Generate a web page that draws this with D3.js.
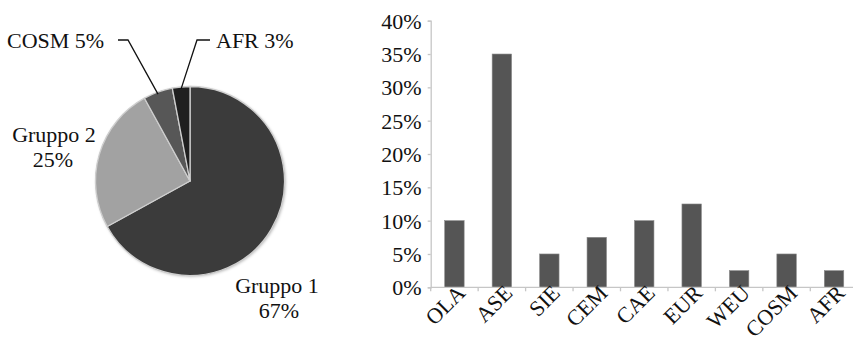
<!DOCTYPE html>
<html>
<head>
<meta charset="utf-8">
<script src="https://cdn.jsdelivr.net/npm/d3@7"></script>
<style>
  html, body { margin: 0; padding: 0; background: #fff; }
  svg { display: block; }
  text { font-family: "Liberation Serif", "Times New Roman", serif; fill: #111; }
</style>
</head>
<body>
<svg id="chart" width="853" height="342"></svg>
<script>
// Pie: share by group
const pieNames = ["Gruppo 1", "Gruppo 2", "COSM", "AFR"];
const pieValues = [67, 25, 5, 3];
const pieColors = ["#3b3b3b", "#a2a2a2", "#575757", "#1f1f1f"];

// Bars: share by region
const barCategories = ["OLA", "ASE", "SIE", "CEM", "CAE", "EUR", "WEU", "COSM", "AFR"];
const barValues = [10, 35, 5, 7.5, 10, 12.5, 2.5, 5, 2.5];
const yTicks = [0, 5, 10, 15, 20, 25, 30, 35, 40];

const svg = d3.select("#chart");
const FONT = 22;

// ---------- pie ----------
const defs = svg.append("defs");
const sh = defs.append("filter").attr("id", "soft").attr("x", "-20%").attr("y", "-20%")
  .attr("width", "140%").attr("height", "140%");
sh.append("feGaussianBlur").attr("in", "SourceAlpha").attr("stdDeviation", 1.8).attr("result", "b");
sh.append("feOffset").attr("in", "b").attr("dx", 0.8).attr("dy", 0.8).attr("result", "o");
sh.append("feFlood").attr("flood-color", "#000").attr("flood-opacity", 0.3);
sh.append("feComposite").attr("in2", "o").attr("operator", "in").attr("result", "s");
const mg = sh.append("feMerge");
mg.append("feMergeNode").attr("in", "s");
mg.append("feMergeNode").attr("in", "SourceGraphic");

const cx = 190, cy = 181, R = 94.5;
const pieData = pieNames.map((n, i) => ({ name: n, value: pieValues[i], color: pieColors[i] }));
const arcs = d3.pie().sort(null).value(d => d.value)(pieData);
const arc = d3.arc().innerRadius(0).outerRadius(R);

const pg = svg.append("g").attr("transform", `translate(${cx},${cy})`);
pg.append("circle").attr("r", R).attr("fill", "#444").attr("filter", "url(#soft)");
pg.selectAll("path.slice").data(arcs).join("path")
  .attr("class", "slice")
  .attr("d", arc)
  .attr("fill", d => d.data.color)
  .attr("stroke", "#cfcfcf")
  .attr("stroke-width", 1.3)
  .attr("stroke-linejoin", "round");

// leader lines for the thin slices
const outer = d3.arc().innerRadius(R).outerRadius(R);
const cosmPt = outer.centroid(arcs[2]);
const afrPt = outer.centroid(arcs[3]);
const lead = svg.append("g").attr("fill", "none").attr("stroke", "#111").attr("stroke-width", 1.3);
lead.append("polyline").attr("points",
  [[118, 40], [128, 40], [cx + cosmPt[0], cy + cosmPt[1] + 2]].map(p => p.join(",")).join(" "));
lead.append("polyline").attr("points",
  [[210, 40], [197, 40], [cx + afrPt[0], cy + afrPt[1] + 2]].map(p => p.join(",")).join(" "));

const pl = svg.append("g").attr("font-size", FONT);
pl.append("text").attr("x", 7).attr("y", 48).text(`${pieNames[2]} ${pieValues[2]}%`);
pl.append("text").attr("x", 216).attr("y", 48).text(`${pieNames[3]} ${pieValues[3]}%`);
pl.append("text").attr("x", 54).attr("y", 142).attr("text-anchor", "middle").text(pieNames[1]);
pl.append("text").attr("x", 53).attr("y", 167).attr("text-anchor", "middle").text(`${pieValues[1]}%`);
pl.append("text").attr("x", 277).attr("y", 293).attr("text-anchor", "middle").text(pieNames[0]);
pl.append("text").attr("x", 279).attr("y", 318).attr("text-anchor", "middle").text(`${pieValues[0]}%`);

// ---------- bars ----------
const x0 = 430.7, bandW = 47.45;
const x = d3.scaleBand().domain(barCategories)
  .range([x0, x0 + bandW * barCategories.length]).paddingInner(0.59).paddingOuter(0.295);
const y = d3.scaleLinear().domain([0, 40]).range([287.3, 20.7]);

const bg = svg.append("g");
const axisColor = "#c6c6c6";

// y axis
const yAxis = bg.append("g").attr("transform", `translate(${x0},0)`)
  .call(d3.axisLeft(y).tickValues(yTicks).tickSize(3).tickPadding(6).tickFormat(d => d + "%"));
yAxis.select(".domain").attr("stroke", axisColor).attr("stroke-width", 1.3);
yAxis.selectAll(".tick line").attr("stroke", axisColor).attr("stroke-width", 1.3);
yAxis.selectAll(".tick text").attr("font-size", FONT).attr("font-family", "Liberation Serif")
  .attr("fill", "#111").attr("dy", "0.34em");

// bars
bg.selectAll("rect.bar").data(barCategories).join("rect")
  .attr("class", "bar")
  .attr("x", d => x(d))
  .attr("width", x.bandwidth())
  .attr("y", (d, i) => y(barValues[i]))
  .attr("height", (d, i) => y(0) - y(barValues[i]))
  .attr("fill", "#555555")
  .attr("stroke", "#8a8a8a")
  .attr("stroke-width", 0.6);

// x axis with category boundary ticks
const xg = bg.append("g");
xg.append("line").attr("x1", x0).attr("x2", 853).attr("y1", y(0)).attr("y2", y(0))
  .attr("stroke", axisColor).attr("stroke-width", 1.3);
xg.selectAll("line.bt").data(d3.range(barCategories.length + 1)).join("line")
  .attr("class", "bt")
  .attr("x1", i => x0 + i * bandW).attr("x2", i => x0 + i * bandW)
  .attr("y1", y(0)).attr("y2", y(0) + 4)
  .attr("stroke", axisColor).attr("stroke-width", 1.3);
xg.selectAll("text").data(barCategories).join("text")
  .attr("text-anchor", "end")
  .attr("font-size", FONT)
  .attr("transform", d => `translate(${x(d) + x.bandwidth() / 2 + 12},${y(0) + 7}) rotate(-45)`)
  .text(d => d);
</script>
</body>
</html>
